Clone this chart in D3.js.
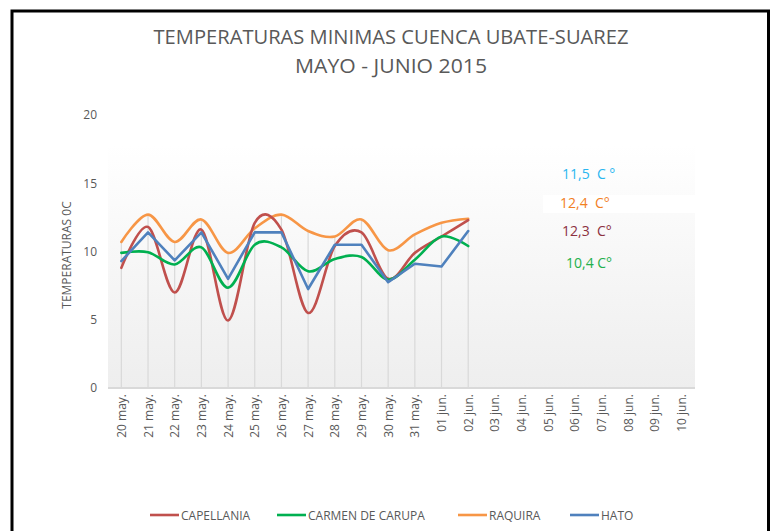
<!DOCTYPE html>
<html>
<head>
<meta charset="utf-8">
<script src="https://cdn.jsdelivr.net/npm/d3@7"></script>
<style>
  body { margin:0; background:#fff; }
  svg { display:block; }
  text { font-family: "Liberation Sans Narrow", "Open Sans", Lato, sans-serif; }
</style>
</head>
<body>
<script>
const categories = ["20 may.","21 may.","22 may.","23 may.","24 may.","25 may.","26 may.","27 may.","28 may.","29 may.","30 may.","31 may.","01 jun.","02 jun.","03 jun.","04 jun.","05 jun.","06 jun.","07 jun.","08 jun.","09 jun.","10 jun."];
const capellania = [8.8, 11.8, 7.0, 11.6, 4.95, 12.1, 11.6, 5.5, 10.4, 11.4, 8.0, 9.9, 11.1, 12.3];
const carmen     = [9.9, 9.95, 9.05, 10.3, 7.35, 10.5, 10.3, 8.55, 9.45, 9.6, 7.95, 9.4, 11.1, 10.4];
const raquira    = [10.7, 12.7, 10.7, 12.35, 9.9, 11.7, 12.7, 11.5, 11.1, 12.35, 10.1, 11.25, 12.1, 12.4];
const hato       = [9.3, 11.4, 9.35, 11.4, 8.0, 11.4, 11.4, 7.25, 10.5, 10.5, 7.75, 9.1, 8.9, 11.5];
const yTicks = [0, 5, 10, 15, 20];
const seriesNames = ["CAPELLANIA", "CARMEN DE CARUPA", "RAQUIRA", "HATO"];
const seriesColors = ["#c0504d", "#00b050", "#f79646", "#4f81bd"];
const annotations = ["11,5  C °", "12,4  C°", "12,3  C°", "10,4 C°"];
const annotationColors = ["#29b6f0", "#f2801f", "#8c3040", "#23b04c"];

const W = 770, H = 531;
const svg = d3.select("body").append("svg").attr("width", W).attr("height", H);

// outer border
svg.append("rect").attr("x", 12).attr("y", 11).attr("width", 756.5).attr("height", 540)
  .attr("fill", "#fff").attr("stroke", "#000").attr("stroke-width", 3);

// titles
svg.append("text").attr("x", 391).attr("y", 44).attr("text-anchor", "middle")
  .attr("font-size", 20).attr("fill", "#595959")
  .attr("textLength", 475).attr("lengthAdjust", "spacingAndGlyphs")
  .text("TEMPERATURAS  MINIMAS CUENCA UBATE-SUAREZ");
svg.append("text").attr("x", 391).attr("y", 73).attr("text-anchor", "middle")
  .attr("font-size", 20).attr("fill", "#595959")
  .attr("textLength", 192).attr("lengthAdjust", "spacingAndGlyphs")
  .text("MAYO  - JUNIO 2015");

const x = d3.scalePoint().domain(categories).range([108, 695]).padding(0.5);
const y = d3.scaleLinear().domain([0, 20]).range([388, 115]);

// plot area gradient
const defs = svg.append("defs");
const grad = defs.append("linearGradient").attr("id", "pg").attr("x1", 0).attr("y1", 0).attr("x2", 0).attr("y2", 1);
grad.append("stop").attr("offset", "0%").attr("stop-color", "#ffffff");
grad.append("stop").attr("offset", "11%").attr("stop-color", "#ffffff");
grad.append("stop").attr("offset", "100%").attr("stop-color", "#eeeeee");
svg.append("rect").attr("x", 108).attr("y", y(20)).attr("width", 587).attr("height", y(0) - y(20))
  .attr("fill", "url(#pg)");

// white box behind 12,4 annotation
svg.append("rect").attr("x", 543).attr("y", 195).attr("width", 152).attr("height", 18).attr("fill", "#fff");

// drop lines
const allSeries = [capellania, carmen, raquira, hato];
const nData = capellania.length;
const maxVals = d3.range(nData).map(i => d3.max(allSeries, s => s[i]));
svg.append("g").selectAll("line").data(maxVals).join("line")
  .attr("x1", (d, i) => x(categories[i])).attr("x2", (d, i) => x(categories[i]))
  .attr("y1", d => y(d)).attr("y2", y(0))
  .attr("stroke", "#d9d9d9").attr("stroke-width", 1.2);

// x axis
const xAxis = svg.append("g").attr("transform", `translate(0,${y(0)})`)
  .call(d3.axisBottom(x).tickSize(0).tickPadding(0));
xAxis.select(".domain").attr("stroke", "#d9d9d9").attr("stroke-width", 2)
  .attr("d", "M108,0H695");
xAxis.selectAll("text")
  .attr("transform", d => `translate(4,6) rotate(-90)`)
  .attr("text-anchor", "end").attr("dy", 0).attr("y", 0).attr("x", 0)
  .attr("font-size", 12).attr("fill", "#595959")
  .style("font-family", "\"Liberation Sans Narrow\", \"Open Sans\", sans-serif");

// y axis
const yAxis = svg.append("g").attr("transform", "translate(97,0)")
  .call(d3.axisLeft(y).tickValues(yTicks).tickSize(0).tickPadding(0));
yAxis.select(".domain").remove();
yAxis.selectAll("text").attr("font-size", 12).attr("fill", "#595959")
  .style("font-family", "\"Liberation Sans Narrow\", \"Open Sans\", sans-serif");

svg.append("text").attr("transform", `translate(71,255) rotate(-90)`)
  .attr("text-anchor", "middle").attr("font-size", 12).attr("fill", "#595959")
  .text("TEMPERATURAS 0C");

// lines
const smooth = d3.line().x((d, i) => x(categories[i])).y(d => y(d)).curve(d3.curveCatmullRom.alpha(0));
const straight = d3.line().x((d, i) => x(categories[i])).y(d => y(d));
const gens = [smooth, smooth, smooth, straight];
const drawOrder = [2, 0, 1, 3];
drawOrder.forEach(k => {
  svg.append("path").datum(allSeries[k]).attr("d", gens[k])
    .attr("fill", "none").attr("stroke", seriesColors[k]).attr("stroke-width", 2.6)
    .attr("stroke-linejoin", "round").attr("stroke-linecap", "round");
});

// annotations
const annX = [562, 560, 562, 566];
const annY = [179, 208, 236, 268];
annotations.forEach((t, i) => {
  svg.append("text").attr("x", annX[i]).attr("y", annY[i]).attr("font-size", 14)
    .attr("fill", annotationColors[i]).style("white-space", "pre").attr("xml:space", "preserve").text(t);
});

// legend
const legX = [150, 277, 458, 570];
const leg = svg.append("g");
seriesNames.forEach((n, i) => {
  leg.append("line").attr("x1", legX[i]).attr("x2", legX[i] + 29).attr("y1", 515).attr("y2", 515)
    .attr("stroke", seriesColors[i]).attr("stroke-width", 2.6);
  leg.append("text").attr("x", legX[i] + 31).attr("y", 519.5).attr("font-size", 12)
    .attr("fill", "#595959").text(n);
});
</script>
</body>
</html>
